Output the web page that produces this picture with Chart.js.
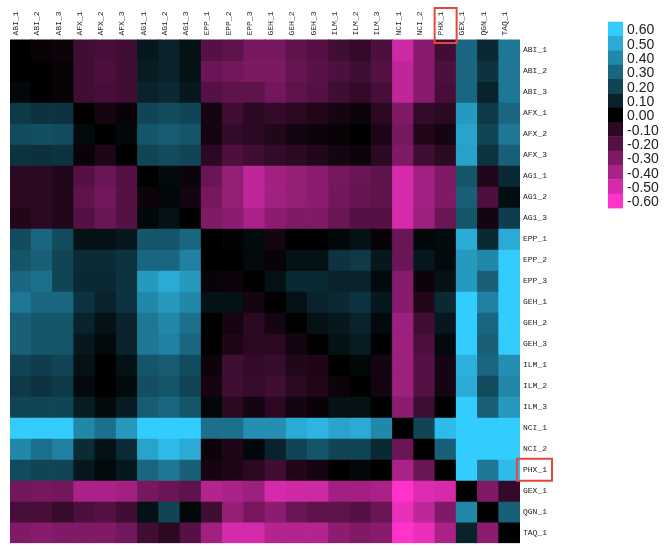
<!DOCTYPE html>
<html>
<head>
<meta charset="utf-8">
<script src="https://cdn.jsdelivr.net/npm/chart.js@4/dist/chart.umd.min.js"></script>
<style>
  html, body { margin: 0; padding: 0; background: #fff; overflow: hidden; }
  #wrap { position: relative; width: 668px; height: 551px; }
</style>
</head>
<body>
<div id="wrap"><canvas id="c"></canvas></div>
<script>
// Sample / platform labels (columns, left to right; rows, top to bottom)
const columns = ['ABI_1','ABI_2','ABI_3','AFX_1','AFX_2','AFX_3','AG1_1','AG1_2','AG1_3',
  'EPP_1','EPP_2','EPP_3','GEH_1','GEH_2','GEH_3','ILM_1','ILM_2','ILM_3',
  'NCI_1','NCI_2','PHX_1','GEX_1','QGN_1','TAQ_1'];
const rows = columns.slice();

// One row of the matrix per sample
const ABI_1 = [0.00,-0.02,-0.03,-0.15,-0.17,-0.15,0.07,0.10,0.05,-0.20,-0.22,-0.28,-0.28,-0.22,-0.20,-0.15,-0.12,-0.18,-0.48,-0.32,-0.15,0.30,0.12,0.35];
const ABI_2 = [0.00,0.00,-0.02,-0.15,-0.18,-0.15,0.08,0.10,0.05,-0.25,-0.27,-0.29,-0.29,-0.24,-0.21,-0.18,-0.15,-0.20,-0.45,-0.32,-0.18,0.30,0.15,0.35];
const ABI_3 = [0.02,0.00,-0.02,-0.15,-0.17,-0.15,0.10,0.12,0.07,-0.20,-0.22,-0.22,-0.27,-0.22,-0.20,-0.15,-0.12,-0.17,-0.45,-0.32,-0.17,0.30,0.10,0.35];
const AFX_1 = [0.17,0.15,0.15,0.00,-0.05,-0.02,0.20,0.22,0.20,-0.05,-0.15,-0.10,-0.12,-0.10,-0.08,-0.05,-0.03,-0.10,-0.30,-0.12,-0.10,0.45,0.17,0.30];
const AFX_2 = [0.22,0.23,0.22,0.03,0.00,0.02,0.25,0.27,0.25,-0.05,-0.12,-0.10,-0.08,-0.05,-0.03,-0.02,0.00,-0.07,-0.28,-0.08,-0.05,0.48,0.20,0.35];
const AFX_3 = [0.15,0.14,0.15,-0.02,-0.07,0.00,0.20,0.22,0.20,-0.10,-0.18,-0.15,-0.12,-0.10,-0.08,-0.05,-0.03,-0.10,-0.30,-0.15,-0.10,0.47,0.15,0.28];
const AG1_1 = [-0.10,-0.10,-0.08,-0.20,-0.25,-0.20,0.00,0.03,-0.03,-0.25,-0.35,-0.45,-0.38,-0.35,-0.33,-0.28,-0.25,-0.22,-0.50,-0.38,-0.30,0.25,-0.08,0.12];
const AG1_2 = [-0.10,-0.10,-0.08,-0.22,-0.27,-0.20,-0.03,0.02,-0.05,-0.28,-0.35,-0.45,-0.38,-0.35,-0.33,-0.27,-0.24,-0.22,-0.50,-0.38,-0.30,0.28,-0.18,0.04];
const AG1_3 = [-0.08,-0.10,-0.08,-0.20,-0.25,-0.20,0.02,0.05,0.00,-0.30,-0.33,-0.40,-0.33,-0.30,-0.30,-0.25,-0.20,-0.20,-0.50,-0.37,-0.25,0.25,-0.05,0.18];
const EPP_1 = [0.22,0.30,0.22,0.05,0.05,0.07,0.25,0.25,0.30,0.00,0.01,0.03,-0.05,0.00,0.00,0.02,0.05,-0.02,-0.25,0.02,0.03,0.50,0.12,0.50];
const EPP_2 = [0.25,0.28,0.20,0.13,0.13,0.15,0.30,0.30,0.38,0.00,0.00,0.03,-0.02,0.05,0.05,0.15,0.17,0.07,-0.25,0.07,0.03,0.45,0.40,0.60];
const EPP_3 = [0.30,0.33,0.20,0.12,0.12,0.15,0.45,0.50,0.45,-0.02,-0.03,0.00,0.05,0.12,0.12,0.10,0.10,0.03,-0.32,-0.03,0.05,0.45,0.28,0.60];
const GEH_1 = [0.35,0.30,0.30,0.15,0.10,0.15,0.40,0.45,0.40,0.05,0.05,-0.05,0.00,0.05,0.10,0.12,0.15,0.07,-0.32,-0.08,0.12,0.60,0.38,0.60];
const GEH_2 = [0.28,0.25,0.25,0.10,0.05,0.10,0.35,0.40,0.33,0.00,-0.05,-0.10,-0.05,0.00,0.05,0.07,0.10,0.03,-0.37,-0.15,0.07,0.60,0.30,0.60];
const GEH_3 = [0.28,0.25,0.25,0.07,0.03,0.10,0.35,0.38,0.30,0.00,-0.07,-0.10,-0.10,-0.05,0.00,0.05,0.08,0.00,-0.37,-0.18,0.03,0.60,0.28,0.60];
const ILM_1 = [0.20,0.18,0.20,0.05,0.00,0.05,0.25,0.27,0.22,-0.03,-0.15,-0.12,-0.13,-0.08,-0.07,0.00,0.02,-0.05,-0.37,-0.20,-0.05,0.52,0.30,0.42];
const ILM_2 = [0.17,0.15,0.17,0.03,0.00,0.03,0.23,0.25,0.20,-0.05,-0.15,-0.13,-0.15,-0.10,-0.08,-0.03,0.00,-0.05,-0.37,-0.20,-0.05,0.50,0.22,0.40];
const ILM_3 = [0.20,0.20,0.20,0.08,0.03,0.08,0.27,0.30,0.25,0.02,-0.10,-0.05,-0.10,-0.05,-0.02,0.05,0.05,0.00,-0.33,-0.15,0.00,0.60,0.28,0.45];
const NCI_1 = [0.60,0.60,0.60,0.40,0.33,0.45,0.60,0.60,0.60,0.33,0.33,0.42,0.42,0.50,0.53,0.48,0.50,0.40,0.00,0.20,0.55,0.60,0.60,0.60];
const NCI_2 = [0.40,0.33,0.38,0.13,0.05,0.13,0.48,0.55,0.50,-0.03,-0.07,0.02,0.10,0.20,0.25,0.20,0.20,0.12,-0.25,0.00,0.28,0.60,0.60,0.60];
const PHX_1 = [0.22,0.20,0.20,0.07,0.03,0.07,0.30,0.35,0.28,-0.05,-0.07,-0.10,-0.15,-0.08,-0.05,0.00,0.02,0.00,-0.40,-0.25,0.00,0.60,0.35,0.55];
const GEX_1 = [-0.27,-0.28,-0.27,-0.40,-0.40,-0.38,-0.28,-0.25,-0.22,-0.42,-0.40,-0.37,-0.50,-0.48,-0.48,-0.38,-0.38,-0.40,-0.60,-0.52,-0.50,0.00,-0.30,-0.12];
const QGN_1 = [-0.17,-0.17,-0.13,-0.18,-0.20,-0.15,0.05,0.20,0.02,-0.15,-0.35,-0.28,-0.33,-0.25,-0.22,-0.22,-0.20,-0.25,-0.55,-0.45,-0.30,0.40,0.00,0.28];
const TAQ_1 = [-0.30,-0.32,-0.30,-0.30,-0.30,-0.27,-0.15,-0.10,-0.20,-0.38,-0.50,-0.50,-0.42,-0.42,-0.42,-0.33,-0.30,-0.32,-0.60,-0.55,-0.40,0.10,-0.33,0.00];

const matrix = [ABI_1, ABI_2, ABI_3, AFX_1, AFX_2, AFX_3, AG1_1, AG1_2, AG1_3,
  EPP_1, EPP_2, EPP_3, GEH_1, GEH_2, GEH_3, ILM_1, ILM_2, ILM_3,
  NCI_1, NCI_2, PHX_1, GEX_1, QGN_1, TAQ_1];

// Colour key steps, top to bottom
const keyValues = [0.60, 0.50, 0.40, 0.30, 0.20, 0.10, 0.00, -0.10, -0.20, -0.30, -0.40, -0.50, -0.60];

// Label highlighted with a box on both axes
const highlighted = 'PHX_1';

// black -> cyan for positive, black -> magenta for negative
function cellColor(v) {
  const t = Math.min(Math.abs(v) / 0.6, 1);
  const c = v >= 0 ? [51, 204, 255] : [255, 51, 204];
  return `rgb(${Math.round(c[0]*t)},${Math.round(c[1]*t)},${Math.round(c[2]*t)})`;
}

// each matrix row is one dataset of floating bars spanning [r, r+1]
const datasets = matrix.map((vals, r) => ({
  label: rows[r],
  data: vals.map(() => [r, r + 1]),
  backgroundColor: vals.map(cellColor),
  borderWidth: 0,
  inflateAmount: 0.4,
  barPercentage: 1,
  categoryPercentage: 1
}));

const labelFont = { family: 'Liberation Mono', size: 8 };

const extras = {
  id: 'extras',
  afterDraw(chart) {
    const ctx = chart.ctx;
    const xs = chart.scales.x, ys = chart.scales.y;
    ctx.save();

    // colour key
    const kx = 608, kw = 15, ky = 21.7, kh = 14.33;
    keyValues.forEach((v, i) => {
      ctx.fillStyle = cellColor(v);
      ctx.fillRect(kx, ky + i * kh, kw, kh + 0.4);
    });
    ctx.fillStyle = '#222';
    ctx.font = '14px "Liberation Sans", Arial, sans-serif';
    ctx.textAlign = 'left';
    ctx.textBaseline = 'middle';
    keyValues.forEach((v, i) => {
      ctx.fillText(v.toFixed(2), kx + 19, ky + (i + 0.5) * kh + 1.5);
    });

    // highlight boxes around one label on each axis
    ctx.strokeStyle = '#e8453c';
    ctx.lineWidth = 2;
    const ci = columns.indexOf(highlighted);
    const cx = xs.getPixelForValue(ci);
    ctx.strokeRect(cx - 11, 8, 22, 35);
    const ri = rows.indexOf(highlighted);
    const cy = ys.getPixelForValue(ri + 0.5);
    ctx.strokeRect(xs.right - 3, cy - 11, 35, 22);
    ctx.restore();
  }
};

new Chart(document.getElementById('c'), {
  type: 'bar',
  data: { labels: columns, datasets },
  plugins: [extras],
  options: {
    responsive: true,
    maintainAspectRatio: false,
    animation: false,
    layout: { padding: { left: 10, right: 0, top: 0, bottom: 0 } },
    plugins: { legend: { display: false }, tooltip: { enabled: false } },
    scales: {
      x: {
        type: 'category',
        position: 'top',
        stacked: true,
        offset: true,
        grid: { display: false, drawTicks: false },
        border: { display: false },
        ticks: {
          autoSkip: false, minRotation: 90, maxRotation: 90,
          padding: 4, labelOffset: 5, color: '#222', font: labelFont
        },
        afterFit(s) { s.height = 39.5; }
      },
      y: {
        type: 'linear',
        position: 'right',
        stacked: false,
        reverse: true,
        min: 0,
        max: rows.length,
        grid: { display: false, drawTicks: false },
        border: { display: false },
        afterBuildTicks(s) { s.ticks = rows.map((_, i) => ({ value: i + 0.5 })); },
        ticks: {
          autoSkip: false, padding: 3, color: '#222', font: labelFont,
          callback: (v) => rows[Math.floor(v)]
        },
        afterFit(s) { s.width = 148; }
      }
    }
  }
});
</script>
</body>
</html>
